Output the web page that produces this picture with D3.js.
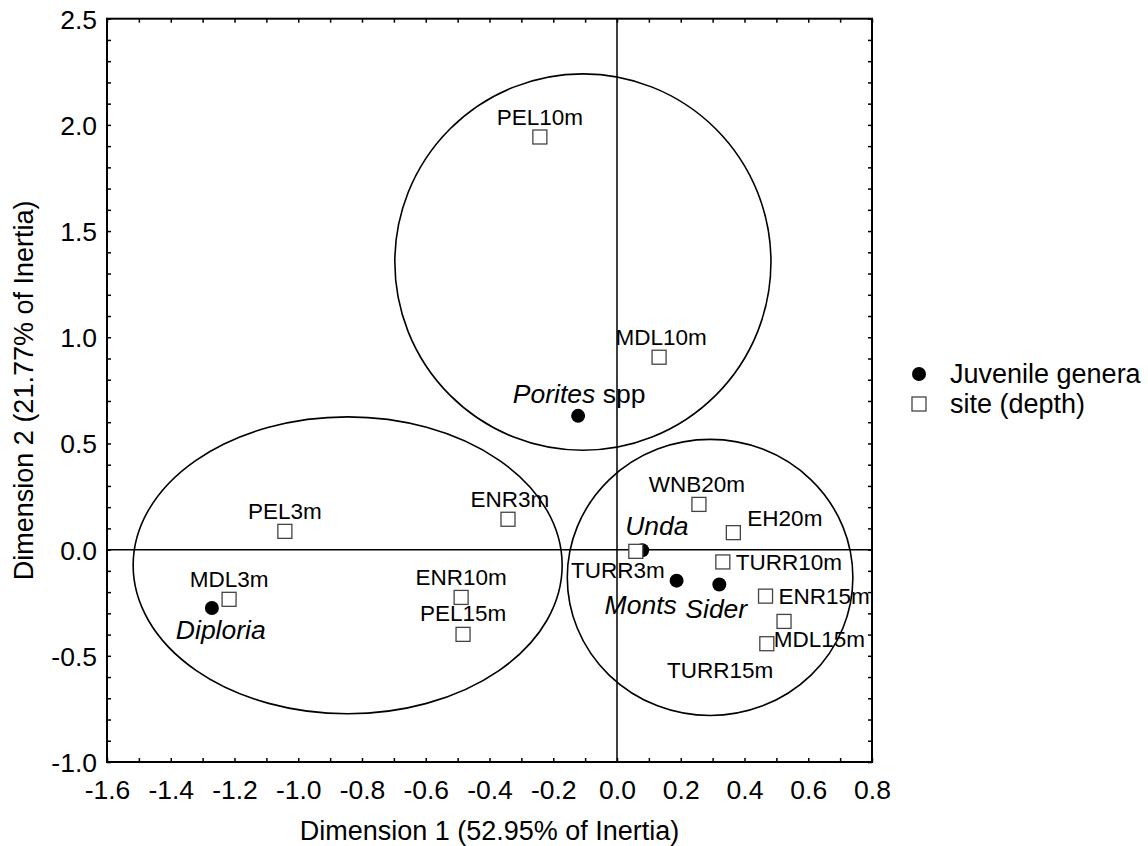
<!DOCTYPE html>
<html>
<head>
<meta charset="utf-8">
<script src="https://cdn.jsdelivr.net/npm/d3@7"></script>
<style>
  body { margin: 0; background: #fff; }
  svg text { font-family: "Liberation Sans", Arial, Helvetica, sans-serif; fill: #000; }
</style>
</head>
<body>
<div id="container"><svg width="1148" height="846"></svg></div>
<script>
// site (depth) scores
const siteNames = ["PEL10m", "MDL10m", "PEL3m", "ENR3m", "MDL3m", "ENR10m", "PEL15m",
                   "WNB20m", "EH20m", "TURR3m", "TURR10m", "ENR15m", "TURR15m", "MDL15m"];
const siteDim1 = [-0.242, 0.132, -1.042, -0.342, -1.217, -0.489, -0.483,
                  0.257, 0.365, 0.059, 0.332, 0.466, 0.524, 0.470];
const siteDim2 = [1.943, 0.906, 0.086, 0.143, -0.234, -0.225, -0.399,
                  0.213, 0.080, -0.008, -0.058, -0.219, -0.338, -0.443];

// juvenile genera scores
const genusNames = ["Porites", "Diploria", "Unda", "Monts", "Sider"];
const genusDim1 = [-0.122, -1.271, 0.079, 0.187, 0.321];
const genusDim2 = [0.630, -0.275, -0.003, -0.146, -0.164];

// group ellipses (centre and radii in data units)
const ellipseCx = [-0.107, -0.845, 0.292];
const ellipseCy = [1.354, -0.074, -0.131];
const ellipseRx = [0.590, 0.673, 0.448];
const ellipseRy = [0.886, 0.699, 0.650];

const xTickLabels = ["-1.6", "-1.4", "-1.2", "-1.0", "-0.8", "-0.6", "-0.4", "-0.2", "0.0", "0.2", "0.4", "0.6", "0.8"];
const yTickLabels = ["-1.0", "-0.5", "0.0", "0.5", "1.0", "1.5", "2.0", "2.5"];

const legendLabels = ["Juvenile genera", "site (depth)"];

const svg = d3.select("svg");
const pLeft = 107, pRight = 872, pTop = 18.7, pBottom = 762;

const x = d3.scaleLinear().domain([-1.6, 0.8]).range([pLeft, pRight]);
const y = d3.scaleLinear().domain([-1.0, 2.5]).range([pBottom, pTop]);

// minor ticks every 0.1
const xMinor = d3.range(-16, 9).map(d => d / 10);
const yMinor = d3.range(-10, 26).map(d => d / 10);
const xMajorSet = new Set(xTickLabels.map(Number));
const yMajorSet = new Set(yTickLabels.map(Number));
const r1 = d => Math.round(d * 10) / 10;
const fmt = d => r1(d).toFixed(1);   // keeps plain hyphen for negatives

// bottom axis
const gx = svg.append("g").attr("transform", `translate(0,${pBottom})`)
  .call(d3.axisBottom(x).tickValues(xMinor).tickSize(-4).tickSizeOuter(0)
    .tickFormat(d => xMajorSet.has(r1(d)) ? fmt(d) : ""));
gx.selectAll("text").attr("y", 37).attr("dy", null).style("font-size", "26.5px");

// left axis
const gy = svg.append("g").attr("transform", `translate(${pLeft},0)`)
  .call(d3.axisLeft(y).tickValues(yMinor).tickSize(-4).tickSizeOuter(0)
    .tickFormat(d => yMajorSet.has(r1(d)) ? fmt(d) : ""));
gy.selectAll("text").attr("x", -10).attr("dy", "0.36em").style("font-size", "26.5px");

// top + right ticks, no labels
svg.append("g").attr("transform", `translate(0,${pTop})`)
  .call(d3.axisTop(x).tickValues(xMinor).tickSize(-4).tickSizeOuter(0).tickFormat(""));
svg.append("g").attr("transform", `translate(${pRight},0)`)
  .call(d3.axisRight(y).tickValues(yMinor).tickSize(-4).tickSizeOuter(0).tickFormat(""));

svg.selectAll(".domain").remove();
svg.selectAll(".tick line").attr("stroke", "#000").attr("stroke-width", 1.5);
svg.selectAll(".tick text").attr("fill", "#000").style("font-family", "'Liberation Sans', Arial, sans-serif");

// frame
svg.append("rect")
  .attr("x", pLeft).attr("y", pTop)
  .attr("width", pRight - pLeft).attr("height", pBottom - pTop)
  .attr("fill", "none").attr("stroke", "#000").attr("stroke-width", 2);

// ellipses
svg.append("g").selectAll("ellipse")
  .data(d3.range(ellipseCx.length))
  .join("ellipse")
  .attr("cx", i => x(ellipseCx[i]))
  .attr("cy", i => y(ellipseCy[i]))
  .attr("rx", i => x(ellipseCx[i] + ellipseRx[i]) - x(ellipseCx[i]))
  .attr("ry", i => y(ellipseCy[i]) - y(ellipseCy[i] + ellipseRy[i]))
  .attr("fill", "none").attr("stroke", "#000").attr("stroke-width", 1.6);

// zero lines
svg.append("line")
  .attr("x1", pLeft).attr("x2", pRight).attr("y1", y(0)).attr("y2", y(0))
  .attr("stroke", "#000").attr("stroke-width", 1.5);
svg.append("line")
  .attr("x1", x(0)).attr("x2", x(0)).attr("y1", pTop).attr("y2", pBottom)
  .attr("stroke", "#000").attr("stroke-width", 1.5);

// genera (filled dots)
const genera = genusNames.map((n, i) => ({ name: n, d1: genusDim1[i], d2: genusDim2[i] }));
svg.append("g").selectAll("circle")
  .data(genera).join("circle")
  .attr("cx", d => x(d.d1)).attr("cy", d => y(d.d2))
  .attr("r", 7).attr("fill", "#000");

// sites (open squares)
const sites = siteNames.map((n, i) => ({ name: n, d1: siteDim1[i], d2: siteDim2[i] }));
svg.append("g").selectAll("rect")
  .data(sites).join("rect")
  .attr("x", d => x(d.d1) - 7).attr("y", d => y(d.d2) - 7)
  .attr("width", 14).attr("height", 14)
  .attr("fill", "#fff").attr("stroke", "#444").attr("stroke-width", 1.3);

// label placement (pixel offsets from each point)
const siteLabelPos = {
  PEL10m: ["middle", 0, -12], MDL10m: ["middle", 2, -12], PEL3m: ["middle", 0, -12],
  ENR3m: ["middle", 2, -12], MDL3m: ["middle", 0, -12], ENR10m: ["middle", 0, -12],
  PEL15m: ["middle", 0, -13], WNB20m: ["middle", -2, -12], EH20m: ["start", 14, -7],
  TURR3m: ["middle", -18, 27], TURR10m: ["start", 13, 8], ENR15m: ["start", 13, 8],
  TURR15m: ["middle", -64, 57], MDL15m: ["start", 7, 3]
};
svg.append("g").selectAll("text")
  .data(sites).join("text")
  .attr("x", d => x(d.d1) + siteLabelPos[d.name][1])
  .attr("y", d => y(d.d2) + siteLabelPos[d.name][2])
  .attr("text-anchor", d => siteLabelPos[d.name][0])
  .style("font-size", "22.5px")
  .text(d => d.name);

const genusLabelPos = {
  Porites: ["middle", 1, -13], Diploria: ["start", -36, 31], Unda: ["start", -17, -15],
  Monts: ["start", -72, 33], Sider: ["start", -34, 34]
};
const gl = svg.append("g").selectAll("text")
  .data(genera).join("text")
  .attr("x", d => x(d.d1) + genusLabelPos[d.name][1])
  .attr("y", d => y(d.d2) + genusLabelPos[d.name][2])
  .attr("text-anchor", d => genusLabelPos[d.name][0])
  .style("font-size", "26.5px");
gl.append("tspan").style("font-style", "italic").text(d => d.name);
gl.filter(d => d.name === "Porites").append("tspan").text(" spp");

// axis titles
svg.append("text")
  .attr("x", (pLeft + pRight) / 2).attr("y", 840)
  .attr("text-anchor", "middle").style("font-size", "27px")
  .text("Dimension 1 (52.95% of Inertia)");
svg.append("text")
  .attr("transform", `translate(33,${(pTop + pBottom) / 2}) rotate(-90)`)
  .attr("text-anchor", "middle").style("font-size", "27px")
  .text("Dimension 2 (21.77% of Inertia)");

// legend
const lg = svg.append("g").attr("transform", "translate(919,374)");
lg.append("circle").attr("cx", 0).attr("cy", 0).attr("r", 7).attr("fill", "#000");
lg.append("rect").attr("x", -7).attr("y", 23).attr("width", 14).attr("height", 14)
  .attr("fill", "#fff").attr("stroke", "#444").attr("stroke-width", 1.3);
lg.selectAll("text.leg").data(legendLabels).join("text")
  .attr("class", "leg")
  .attr("x", 31).attr("y", (d, i) => i * 30 + 9)
  .style("font-size", "27px")
  .text(d => d);
</script>
</body>
</html>
